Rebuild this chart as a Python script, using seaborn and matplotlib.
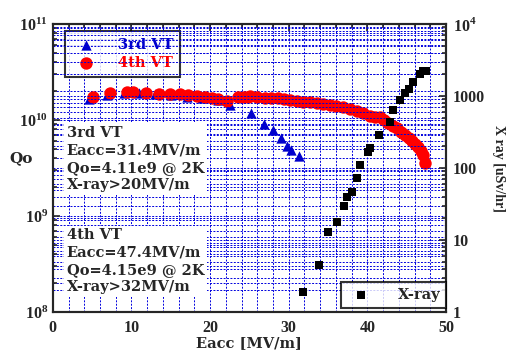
import numpy as np
import pandas as pd
import matplotlib
matplotlib.use("Agg")
import matplotlib.pyplot as plt
import seaborn as sns
from matplotlib.ticker import LogLocator, MultipleLocator, FixedLocator, FixedFormatter, NullFormatter

# 3rd VT (Qo vs Eacc)
vt3_eacc = [4.6, 6.9, 9.0, 11.0, 13.0, 15.0, 17.0, 19.0, 21.0, 22.5, 25.2, 26.8, 28.0, 29.0, 29.8, 30.3, 31.3]
vt3_qo = [1.66e10, 1.8e10, 1.9e10, 1.9e10, 1.85e10, 1.8e10, 1.75e10, 1.7e10, 1.6e10, 1.44e10, 1.17e10,
          9.1e9, 7.8e9, 6.5e9, 5.4e9, 4.9e9, 4.2e9]

# 4th VT (Qo vs Eacc)
vt4_eacc = [5.1, 7.3, 9.4, 10.2, 11.8, 13.5, 14.9, 16.2, 17.2, 18.3, 19.3, 20.2, 21.0, 22.1,
            23.5, 24.3, 24.8, 25.1, 26.0, 27.0, 27.8, 28.6, 29.4, 30.2, 31.0, 31.8, 32.7, 33.6,
            34.4, 35.2, 36.0, 36.9, 37.8, 38.7, 39.5, 40.3, 41.0, 41.6, 42.1, 42.6, 43.2, 43.8,
            44.3, 44.8, 45.3, 45.7, 46.1, 46.4, 46.8, 47.1, 47.3]
vt4_qo = [1.74e10, 1.9e10, 1.95e10, 1.95e10, 1.92e10, 1.88e10, 1.86e10, 1.85e10, 1.82e10, 1.78e10,
          1.74e10, 1.7e10, 1.65e10, 1.58e10, 1.74e10, 1.75e10, 1.74e10, 1.78e10, 1.74e10, 1.7e10,
          1.69e10, 1.68e10, 1.66e10, 1.63e10, 1.59e10, 1.55e10, 1.52e10, 1.5e10, 1.47e10, 1.44e10,
          1.4e10, 1.35e10, 1.3e10, 1.25e10, 1.18e10, 1.1e10, 1.08e10, 1.06e10, 9.9e9, 9.2e9,
          8.7e9, 8.2e9, 7.5e9, 6.9e9, 6.5e9, 6.1e9, 5.6e9, 5.2e9, 4.7e9, 4.3e9, 3.6e9]

# X-ray (uSv/hr vs Eacc)
xray_eacc = [31.8, 33.8, 35.0, 36.1, 37.0, 37.4, 38.0, 38.7, 39.1, 40.1, 40.3, 41.5, 42.9, 43.3,
             44.1, 44.8, 45.3, 45.8, 46.7, 47.1, 47.5]
xray_dose = [1.9, 4.5, 13, 18, 30, 40, 46, 72, 110, 166, 190, 287, 436, 636, 880, 1100, 1250,
             1580, 2000, 2240, 2240]

sns.set_style("white")
plt.rcParams['font.family'] = ['Liberation Serif', 'DejaVu Serif']
plt.rcParams['font.weight'] = 'bold'
plt.rcParams['mathtext.fontset'] = 'custom'
plt.rcParams['mathtext.rm'] = 'Liberation Serif:bold'
plt.rcParams['mathtext.bf'] = 'Liberation Serif:bold'

fig = plt.figure(figsize=(5.08, 3.51), dpi=100)
ax = fig.add_axes([0.104, 0.111, 0.774, 0.821])
ax2 = ax.twinx()

grid_kw = dict(color='#0000dd', linestyle=(0, (2, 1.5)), linewidth=0.7)

ax.set_xlim(0, 50)
ax.set_yscale('log')
ax.set_ylim(1e8, 1e11)
ax.xaxis.set_major_locator(MultipleLocator(10))
ax.xaxis.set_minor_locator(MultipleLocator(2))
ax.yaxis.set_major_locator(LogLocator(base=10, numticks=10))
ax.yaxis.set_minor_locator(LogLocator(base=10, subs=np.arange(2, 10), numticks=20))
ax.yaxis.set_minor_formatter(NullFormatter())
ax.grid(which='both', axis='both', **grid_kw)
ax.set_axisbelow(True)

ax2.set_yscale('log')
ax2.set_ylim(1, 1e4)
ax2.yaxis.set_major_locator(FixedLocator([1, 10, 100, 1000, 1e4]))
ax2.yaxis.set_major_formatter(FixedFormatter(['1', '10', '100', '1000', r'$10^4$']))
ax2.yaxis.set_minor_locator(LogLocator(base=10, subs=np.arange(2, 10), numticks=20))
ax2.yaxis.set_minor_formatter(NullFormatter())
ax2.grid(which='both', axis='y', **grid_kw)

sns.scatterplot(x=vt3_eacc, y=vt3_qo, marker='^', color='#0000cc', s=55, linewidth=0,
                ax=ax, label='3rd VT', zorder=3)
sns.scatterplot(x=vt4_eacc, y=vt4_qo, marker='o', color='#ff0000', s=80, linewidth=0,
                ax=ax, label='4th VT', zorder=4)
sns.scatterplot(x=xray_eacc, y=xray_dose, marker='s', color='black', s=38, linewidth=0,
                ax=ax2, label='X-ray', zorder=5)

for a in (ax, ax2):
    a.tick_params(which='both', direction='in', labelsize=11.5, width=1.2)
    a.tick_params(which='major', length=5)
    a.tick_params(which='minor', length=3)
    for sp in a.spines.values():
        sp.set_linewidth(1.5)
ax.tick_params(top=True, which='both')
ax.tick_params(axis='x', pad=6)
ax2.tick_params(axis='y', pad=5)

wide = ['DejaVu Serif']
ax.set_xlabel('Eacc [MV/m]', fontsize=10.5, fontweight='bold', family=wide)
ax.xaxis.set_label_coords(0.5, -0.082)
ax.set_ylabel('Qo', fontsize=11, fontweight='bold', rotation=0, labelpad=12, family=wide)
ax.yaxis.set_label_coords(-0.08, 0.51)
ax2.set_ylabel('X ray [uSv/hr]', fontsize=10, fontweight='bold', rotation=-90, labelpad=14)

leg = ax.legend(loc='upper left', bbox_to_anchor=(0.03, 0.975), frameon=True, fancybox=False,
                prop=dict(family=wide, weight='bold', size=10.5),
                labelcolor=['#0000cc', '#ff0000'], handletextpad=1.2,
                borderpad=0.45, labelspacing=0.3, markerscale=1.0, borderaxespad=0)
leg.get_frame().set_edgecolor('black')
leg.get_frame().set_linewidth(1.5)
leg.set_zorder(10)
leg2 = ax2.legend(loc='lower right', bbox_to_anchor=(1.0, 0.015), frameon=True, fancybox=False,
                  prop=dict(family=wide, weight='bold', size=10.5),
                  handletextpad=1.5, borderpad=0.4, borderaxespad=0)
leg2.get_frame().set_edgecolor('black')
leg2.get_frame().set_linewidth(1.5)

txt_kw = dict(transform=ax.transAxes, fontsize=10.5, fontweight='bold', va='top', ha='left',
              family=wide, linespacing=1.3, bbox=dict(facecolor='white', edgecolor='none', pad=2))
ax2.text(0.035, 0.645, '3rd VT\nEacc=31.4MV/m\nQo=4.11e9 @ 2K\nX-ray>20MV/m', **txt_kw)
ax2.text(0.035, 0.29, '4th VT\nEacc=47.4MV/m\nQo=4.15e9 @ 2K\nX-ray>32MV/m', **txt_kw)

fig.savefig('out.png', dpi=100)
